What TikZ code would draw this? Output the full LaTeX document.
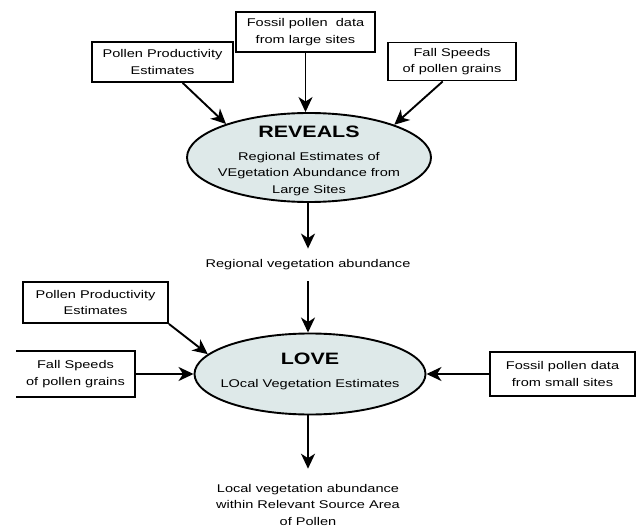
\documentclass[tikz,border=0pt]{standalone}
\usepackage{fontspec}
\setmainfont{Liberation Sans}[FakeStretch=1.3]
\usetikzlibrary{shapes.geometric, arrows.meta, positioning}
\definecolor{ellipseFill}{RGB}{222,233,233}
\newcommand{\headfont}{\fontsize{16.5}{16.5}\selectfont\bfseries}

\tikzset{
  inbox/.style={draw, line width=1.9pt, align=center, inner sep=0pt, font=\fontsize{11.2}{16.5}\selectfont},
  model/.style={ellipse, draw, line width=1.9pt, fill=ellipseFill, inner sep=0pt},
  plaintext/.style={align=center, inner xsep=0pt, font=\fontsize{11.2}{16.5}\selectfont},
  flow/.style={-{Stealth[length=15pt,width=14pt,inset=4.5pt]}, line width=1.9pt}
}

\begin{document}
\begin{tikzpicture}[x=1pt,y=-1pt]
                \useasboundingbox (0,0) rectangle (636,529);

                % Inputs to REVEALS
                \node[inbox, minimum width=141pt, minimum height=40pt] (ppTop) at (162.5,62) {Pollen Productivity\\Estimates};
                \node[inbox, minimum width=139pt, minimum height=40pt] (fossilTop) at (305.5,32) {Fossil pollen~ data\\from large sites};
                \node[inbox, minimum width=128pt, minimum height=38pt] (fallTop) at (452,61.5) {Fall Speeds\\of pollen grains};

                % REVEALS model
                \node[model, minimum width=244pt, minimum height=89pt] (reveals) at (309,157.5) {};
                \node[plaintext, inner ysep=0pt] (revealsText) at (309,160.5) {{\headfont REVEALS}\\[6.5pt]Regional Estimates of\\VEgetation Abundance from\\Large Sites};

                \draw[flow] (ppTop.-46) -- (reveals.158);
                \draw[flow] (fossilTop.south) -- (fossilTop.south |- reveals.north);
                \draw[flow] (fallTop.-115) -- (reveals.21);

                % Regional output
                \node[plaintext, inner ysep=11pt] (regional) at (308,265) {Regional vegetation abundance};
                \draw[flow] (reveals.south -| regional.north) -- (regional.north);

                % LOVE model
                \node[model, minimum width=231pt, minimum height=81pt] (love) at (310,374) {};
                \node[plaintext, inner ysep=0pt] (loveText) at (310,371) {{\headfont LOVE}\\[6.5pt]LOcal Vegetation Estimates};

                \node[inbox, minimum width=145pt, minimum height=41pt] (ppLow) at (95.5,302.5) {Pollen Productivity\\Estimates};
                \node[inbox, draw=none, minimum width=117pt, minimum height=44pt] (fallLow) at (75.5,374) {Fall Speeds\\of pollen grains};
                \draw[line width=1.9pt] (fallLow.north west) -- (fallLow.north east) -- (fallLow.south east) -- (fallLow.south west);
                \node[inbox, minimum width=145pt, minimum height=44pt] (fossilLow) at (562.5,374) {Fossil pollen data\\from small sites};

                \draw[flow] (regional.south) -- (regional.south |- love.north);
                \draw[flow] (ppLow.south east) -- (love.169);
                \draw[flow] (fallLow.east) -- (love.west);
                \draw[flow] (fossilLow.west) -- (love.east);

                % Local output
                \node[plaintext, inner ysep=15pt] (local) at (308,504.5) {Local vegetation abundance\\within Relevant Source Area\\of Pollen};
                \draw[flow] (love.south -| local.north) -- (local.north);
            \end{tikzpicture}
\end{document}
